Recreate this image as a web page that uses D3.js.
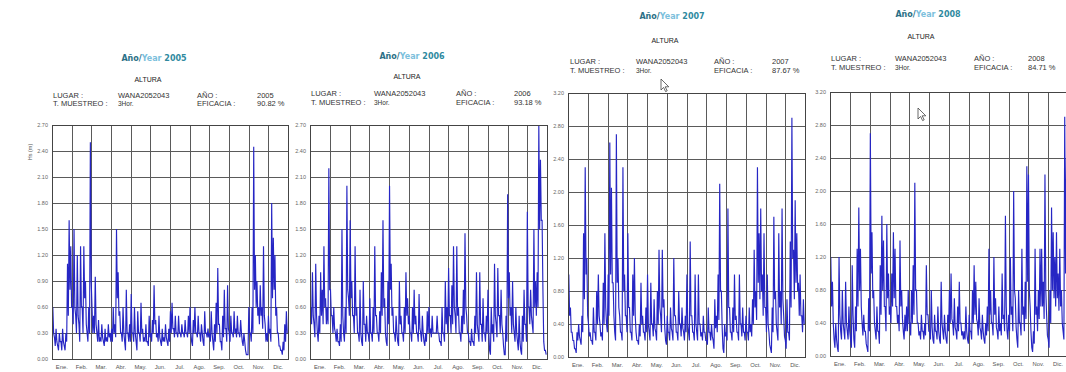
<!DOCTYPE html>
<html><head><meta charset="utf-8">
<script src="https://cdn.jsdelivr.net/npm/d3@7"></script>
<style>
html,body{margin:0;padding:0;background:#fff;}
svg{display:block;}
text{font-family:"Liberation Sans",Arial,sans-serif;}
</style></head>
<body>
<svg id="c" width="1066" height="372"></svg>
<script>
// ---------- DATA ----------
const months = ["Ene.","Feb.","Mar.","Abr.","May.","Jun.","Jul.","Ago.","Sep.","Oct.","Nov.","Dic."];
const years = ["2005","2006","2007","2008"];
const eficacia = ["90.82 %","93.18 %","87.67 %","84.71 %"];
const lugar = "WANA2052043";
const muestreo = "3Hor.";
const ticksA = [0.00,0.30,0.60,0.90,1.20,1.50,1.80,2.10,2.40,2.70];
const ticksB = [0.00,0.40,0.80,1.20,1.60,2.00,2.40,2.80,3.20];

// Hs (m): 12 readings per month (~2.5 days each), local peak and local trough
const hs2005 = [
 0.6,0.25,0.35,0.15,0.3,0.2,0.35,0.15,0.3,1.1,1.6,1.3,
 0.6,1.5,0.5,1.2,0.4,1.3,0.6,1.3,0.9,0.3,0.6,2.5,
 0.6,0.5,0.95,0.3,0.45,0.25,0.4,0.2,0.35,0.25,0.4,0.3,
 0.35,0.6,0.4,1.5,1.0,0.55,0.3,0.6,0.2,0.8,0.3,0.4,
 0.75,0.3,0.6,0.2,0.55,0.3,0.65,0.35,0.25,0.4,0.2,0.5,
 0.3,0.45,0.85,0.45,0.3,0.5,0.2,0.35,0.25,0.4,0.2,0.35,
 0.55,0.65,0.35,0.5,0.3,0.5,0.3,0.4,0.3,0.45,0.3,0.5,
 0.6,0.2,0.45,0.6,0.3,0.5,0.3,0.4,0.2,0.55,0.3,0.35,
 0.3,0.55,0.2,0.4,0.65,1.05,0.4,0.2,0.5,0.8,0.35,0.85,
 0.3,0.5,0.3,0.55,0.35,0.5,0.3,0.45,0.2,0.3,0.1,0.05,
 0.6,0.3,0.6,2.45,1.2,0.9,0.6,0.85,0.6,1.3,0.4,0.3,
 0.5,0.35,1.8,1.4,1.2,0.6,0.3,0.15,0.1,0.2,0.4,0.55];
const hs2005Lo = [
 0.3,0.15,0.2,0.1,0.2,0.1,0.2,0.1,0.2,0.5,0.8,0.6,
 0.4,0.6,0.3,0.5,0.2,0.6,0.3,0.7,0.4,0.2,0.3,0.9,
 0.3,0.3,0.4,0.2,0.2,0.2,0.25,0.15,0.2,0.2,0.25,0.2,
 0.2,0.3,0.25,0.7,0.5,0.3,0.2,0.3,0.1,0.3,0.2,0.2,
 0.3,0.2,0.3,0.1,0.3,0.2,0.3,0.2,0.2,0.2,0.15,0.25,
 0.2,0.3,0.4,0.25,0.2,0.25,0.15,0.2,0.2,0.25,0.15,0.2,
 0.3,0.35,0.25,0.3,0.25,0.3,0.25,0.3,0.25,0.3,0.25,0.3,
 0.3,0.15,0.3,0.3,0.25,0.3,0.2,0.3,0.15,0.3,0.25,0.25,
 0.2,0.3,0.1,0.2,0.3,0.4,0.2,0.1,0.25,0.35,0.2,0.35,
 0.2,0.3,0.25,0.3,0.25,0.3,0.25,0.3,0.15,0.2,0.05,0.05,
 0.3,0.2,0.3,0.8,0.6,0.5,0.4,0.5,0.35,0.5,0.2,0.2,
 0.3,0.2,0.7,0.8,0.5,0.3,0.15,0.1,0.05,0.1,0.2,0.3];
const hs2006 = [
 0.6,1.0,0.4,1.1,0.3,0.5,1.0,0.8,1.3,0.7,0.6,2.2,
 0.8,0.5,0.6,0.3,0.35,0.2,0.4,1.5,0.3,0.6,2.0,0.7,
 1.6,0.9,0.5,1.3,0.6,0.3,0.8,0.2,0.9,0.4,0.5,0.3,
 0.7,0.3,0.6,1.3,0.5,0.3,0.55,1.0,1.6,0.7,0.2,0.9,
 2.0,1.1,0.6,0.3,0.5,0.2,0.9,0.5,0.3,0.6,1.0,0.7,
 0.5,0.3,0.6,0.8,0.5,0.3,0.75,0.3,0.5,0.2,0.3,0.55,
 0.6,0.35,0.5,0.3,0.3,0.5,0.3,0.2,0.6,0.3,0.9,0.6,
 1.05,0.5,0.85,1.3,0.5,1.3,0.6,0.3,0.5,0.8,1.45,0.5,
 0.3,0.2,0.35,0.2,0.5,1.0,0.3,1.0,0.4,0.7,0.3,0.5,
 0.8,0.1,0.6,0.4,1.1,0.4,1.05,0.5,0.8,0.3,0.05,0.5,
 1.9,1.0,0.6,0.9,0.3,0.6,0.2,0.5,0.1,0.5,0.8,0.4,
 1.7,0.6,0.8,0.4,1.5,0.9,1.0,2.7,2.3,1.6,0.2,0.1];
const hs2006Lo = [
 0.4,0.5,0.25,0.5,0.2,0.3,0.5,0.4,0.6,0.4,0.4,0.8,
 0.5,0.3,0.35,0.2,0.2,0.15,0.2,0.5,0.2,0.3,0.8,0.5,
 0.7,0.5,0.3,0.5,0.3,0.2,0.3,0.15,0.4,0.2,0.3,0.2,
 0.3,0.2,0.3,0.5,0.3,0.2,0.3,0.5,0.6,0.3,0.15,0.4,
 0.8,0.5,0.3,0.2,0.3,0.15,0.4,0.3,0.2,0.3,0.5,0.4,
 0.3,0.2,0.3,0.4,0.3,0.2,0.35,0.2,0.3,0.15,0.2,0.3,
 0.3,0.25,0.3,0.3,0.3,0.3,0.2,0.15,0.3,0.2,0.4,0.3,
 0.5,0.3,0.4,0.6,0.3,0.5,0.3,0.2,0.3,0.4,0.6,0.3,
 0.2,0.15,0.2,0.15,0.3,0.4,0.2,0.4,0.2,0.3,0.2,0.3,
 0.3,0.05,0.3,0.2,0.5,0.25,0.5,0.3,0.4,0.15,0.05,0.2,
 0.7,0.5,0.3,0.4,0.2,0.3,0.1,0.2,0.05,0.2,0.4,0.2,
 0.6,0.4,0.5,0.3,0.6,0.5,0.6,1.5,1.6,0.8,0.1,0.05];
const hs2007 = [
 1.0,0.6,0.3,0.2,0.1,0.3,0.4,0.2,0.5,1.5,2.3,1.2,
 0.4,0.3,0.2,0.6,0.3,0.8,1.0,0.4,0.3,0.9,1.5,0.4,
 1.0,2.6,2.05,0.9,0.3,2.7,1.2,0.5,0.3,2.3,1.0,0.5,
 1.5,0.6,0.3,1.0,1.2,0.3,0.2,0.4,0.9,0.5,0.3,0.6,
 1.0,0.3,0.9,0.4,0.7,0.3,0.8,1.3,0.5,1.3,0.7,0.2,
 0.5,0.3,0.6,0.3,1.2,0.5,0.3,0.8,0.4,0.6,0.3,0.5,
 1.0,0.3,1.4,0.5,0.3,1.0,0.3,1.0,0.4,0.3,0.5,0.3,
 0.2,0.6,0.3,0.4,0.2,0.7,0.5,1.0,2.1,0.8,0.1,0.4,
 0.3,1.8,0.6,0.3,0.6,1.0,0.5,0.3,1.0,0.4,0.6,0.3,
 0.5,0.3,0.6,0.4,0.7,1.3,0.8,2.3,1.5,1.8,1.0,1.5,
 0.6,1.0,0.3,0.1,0.6,1.7,0.8,0.3,1.5,0.8,1.8,0.5,
 0.2,0.7,0.3,1.4,2.9,1.3,1.9,1.5,0.9,1.0,0.5,0.7];
const hs2007Lo = [
 0.5,0.3,0.2,0.1,0.05,0.2,0.25,0.15,0.3,0.7,1.0,0.5,
 0.25,0.2,0.15,0.3,0.2,0.4,0.5,0.25,0.2,0.4,0.6,0.3,
 0.5,1.0,0.9,0.5,0.2,0.9,0.6,0.3,0.2,0.8,0.5,0.3,
 0.6,0.3,0.2,0.5,0.5,0.2,0.15,0.25,0.4,0.3,0.2,0.3,
 0.4,0.2,0.4,0.25,0.35,0.2,0.4,0.6,0.3,0.6,0.35,0.15,
 0.3,0.2,0.35,0.2,0.5,0.3,0.2,0.4,0.25,0.35,0.2,0.3,
 0.4,0.2,0.5,0.3,0.2,0.4,0.2,0.4,0.25,0.2,0.3,0.2,
 0.15,0.3,0.2,0.25,0.1,0.35,0.3,0.45,0.8,0.35,0.05,0.25,
 0.2,0.6,0.3,0.2,0.3,0.45,0.3,0.2,0.4,0.25,0.3,0.2,
 0.3,0.2,0.3,0.25,0.4,0.6,0.45,0.9,0.7,0.8,0.5,0.6,
 0.3,0.4,0.15,0.05,0.3,0.7,0.4,0.2,0.6,0.4,0.7,0.25,
 0.1,0.3,0.2,0.6,1.2,0.7,0.9,0.8,0.5,0.5,0.3,0.4];
const hs2008 = [
 1.2,0.9,0.2,0.4,0.1,1.2,0.3,0.8,0.3,0.9,0.3,0.6,
 0.2,1.1,0.2,0.6,1.3,1.8,1.3,0.4,0.5,0.3,0.1,0.7,
 2.7,1.5,0.8,0.3,0.6,0.3,1.1,1.7,1.4,0.6,1.6,1.0,
 0.6,1.0,1.5,1.3,0.6,0.5,1.4,0.8,0.3,0.5,0.6,0.8,
 0.4,0.8,1.1,2.1,0.8,0.4,0.3,0.5,0.3,0.4,1.1,0.5,
 0.3,0.8,0.2,0.5,0.3,0.6,0.2,0.9,0.3,0.5,0.2,0.5,
 0.8,1.0,0.4,0.7,0.3,0.6,0.9,0.4,0.3,0.3,0.6,0.2,
 0.5,0.3,0.8,1.1,0.9,0.4,0.7,0.3,0.5,0.2,0.4,0.6,
 1.3,0.8,0.4,1.2,0.7,0.3,0.6,0.4,1.0,0.5,1.7,0.3,
 0.5,1.2,0.6,2.0,0.7,0.2,0.8,0.4,1.3,0.6,0.9,2.3,
 2.2,0.6,0.1,0.3,1.3,0.6,0.8,1.3,1.3,0.9,2.2,0.5,
 0.2,0.8,1.8,1.5,1.2,1.5,1.0,1.3,0.8,0.3,2.9,2.4];
const hs2008Lo = [
 0.6,0.4,0.1,0.2,0.05,0.5,0.2,0.4,0.2,0.4,0.2,0.3,
 0.1,0.5,0.1,0.3,0.6,0.8,0.6,0.25,0.3,0.15,0.05,0.3,
 1.0,0.7,0.4,0.2,0.3,0.15,0.5,0.8,0.6,0.3,0.7,0.5,
 0.4,0.6,0.7,0.6,0.4,0.3,0.6,0.45,0.2,0.3,0.3,0.4,
 0.25,0.4,0.5,0.8,0.4,0.25,0.2,0.3,0.2,0.25,0.5,0.3,
 0.2,0.35,0.15,0.3,0.2,0.3,0.15,0.4,0.2,0.3,0.15,0.3,
 0.4,0.45,0.25,0.35,0.2,0.3,0.4,0.25,0.2,0.2,0.3,0.15,
 0.3,0.2,0.4,0.5,0.45,0.25,0.35,0.2,0.3,0.15,0.25,0.3,
 0.5,0.4,0.25,0.5,0.35,0.2,0.3,0.25,0.45,0.3,0.6,0.2,
 0.3,0.5,0.3,0.8,0.35,0.1,0.4,0.25,0.5,0.3,0.45,0.9,
 0.8,0.3,0.05,0.15,0.5,0.3,0.45,0.6,0.6,0.45,0.8,0.25,
 0.1,0.4,0.8,0.7,0.6,0.7,0.55,0.6,0.4,0.2,1.0,1.0];

// ---------- LAYOUT ----------
const panels = [
 {year:years[0], ef:eficacia[0], hi:hs2005, lo:hs2005Lo, ticks:ticksA, x0:52,  x1:288,  y0:125, y1:359,
  titleX:154, titleY:61, altX:148, altY:82, row1:98, row2:106, cLugar:53, cWana:118, cAno:197, cVal:257, ytitle:true},
 {year:years[1], ef:eficacia[1], hi:hs2006, lo:hs2006Lo, ticks:ticksA, x0:310, x1:547,  y0:125, y1:359,
  titleX:412, titleY:59, altX:407, altY:79, row1:96, row2:105, cLugar:311, cWana:374, cAno:456, cVal:514},
 {year:years[2], ef:eficacia[2], hi:hs2007, lo:hs2007Lo, ticks:ticksB, x0:568, x1:805,  y0:93,  y1:357,
  titleX:672, titleY:19, altX:665, altY:43, row1:64, row2:73, cLugar:570, cWana:636, cAno:714, cVal:772},
 {year:years[3], ef:eficacia[3], hi:hs2008, lo:hs2008Lo, ticks:ticksB, x0:830, x1:1068, y0:92,  y1:356,
  titleX:928, titleY:17, altX:921, altY:39, row1:61, row2:70, cLugar:831, cWana:895, cAno:974, cVal:1028}
];

const svg = d3.select("#c");
const infoFont = 7.5;

panels.forEach(p => {
  const g = svg.append("g");
  const yMax = p.ticks[p.ticks.length-1];
  const y = d3.scaleLinear().domain([0, yMax]).range([p.y1, p.y0]);
  const xb = d3.scaleBand().domain(months).range([p.x0, p.x1]).paddingInner(0).paddingOuter(0);
  const n = p.hi.length;
  const xi = d3.scaleLinear().domain([0, n - 0.5]).range([p.x0+0.8, p.x1-0.8]);

  // header
  const t = g.append("text").attr("x", p.titleX).attr("y", p.titleY).attr("text-anchor","middle")
    .style("font-family","'DejaVu Sans',Verdana,sans-serif").style("font-weight","bold").style("font-size","8px");
  t.append("tspan").attr("fill","#2a6f86").text("Año/");
  t.append("tspan").attr("fill","#7cc0dc").text("Year ");
  t.append("tspan").attr("fill","#2f8aa0").text(p.year);

  g.append("text").attr("x", p.altX).attr("y", p.altY).attr("text-anchor","middle")
    .attr("fill","#222").style("font-size","7px").text("ALTURA");

  const info = [
    [p.cLugar, p.row1, "LUGAR :"], [p.cWana, p.row1, lugar], [p.cAno, p.row1, "AÑO :"], [p.cVal, p.row1, p.year],
    [p.cLugar, p.row2, "T. MUESTREO :"], [p.cWana, p.row2, muestreo], [p.cAno, p.row2, "EFICACIA :"], [p.cVal, p.row2, p.ef]
  ];
  info.forEach(d => {
    g.append("text").attr("x", d[0]).attr("y", d[1]).attr("fill","#333")
      .style("font-size", (d[2]===muestreo? 6.5 : infoFont)+"px").text(d[2]);
  });

  // horizontal grid + y labels
  const yAxis = d3.axisLeft(y).tickValues(p.ticks).tickFormat(d3.format(".2f"))
     .tickSize(-(p.x1-p.x0)).tickPadding(4);
  const ya = g.append("g").attr("transform",`translate(${p.x0},0)`).call(yAxis);
  ya.select(".domain").remove();
  ya.selectAll("line").attr("stroke","#5a5a5a").attr("stroke-width",1);
  ya.selectAll("text").attr("fill","#666").style("font-size","5.5px").style("font-family","'Liberation Sans',Arial,sans-serif");

  // vertical grid at month boundaries
  const bounds = months.map(m => xb(m)).concat([p.x1]);
  g.append("g").selectAll("line").data(bounds).join("line")
    .attr("x1", d=>Math.round(d)+0.5).attr("x2", d=>Math.round(d)+0.5)
    .attr("y1", p.y0).attr("y2", p.y1).attr("stroke","#5a5a5a").attr("stroke-width",1);

  // month labels
  const xAxis = d3.axisBottom(xb).tickSize(0).tickPadding(6);
  const xa = g.append("g").attr("transform",`translate(0,${p.y1})`).call(xAxis);
  xa.select(".domain").remove();
  xa.selectAll("text").attr("fill","#555").style("font-size","5.8px").style("font-family","'Liberation Sans',Arial,sans-serif");

  // series: each ~2.5-day reading drawn as its peak then its trough
  const pts = [];
  p.hi.forEach((v,i) => { pts.push([i, v]); pts.push([i+0.5, p.lo[i]]); });
  const line = d3.line().x(d=>xi(d[0])).y(d=>y(d[1]));
  g.append("path").datum(pts).attr("d", line).attr("fill","none")
    .attr("stroke","#2626c4").attr("stroke-width",1.15).attr("stroke-linejoin","miter");

  // frame
  g.append("rect").attr("x",p.x0+0.5).attr("y",p.y0+0.5).attr("width",p.x1-p.x0).attr("height",p.y1-p.y0)
    .attr("fill","none").attr("stroke","#444").attr("stroke-width",1);

  if (p.ytitle) {
    g.append("text").attr("transform",`translate(32,${(p.y0+p.y1)/2 - 90}) rotate(-90)`)
      .attr("text-anchor","middle").attr("fill","#555").style("font-size","5.5px").text("Hs  (m)");
  }
});

// mouse cursors visible in the screenshot
function cursor(x, y) {
  svg.append("path").attr("transform",`translate(${x},${y})`)
    .attr("d","M0,0 L0,11 L2.6,8.4 L4.6,12.6 L6.2,11.8 L4.2,7.8 L7.8,7.8 Z")
    .attr("fill","#fff").attr("stroke","#444").attr("stroke-width",0.8);
}
cursor(661, 79);
cursor(918, 108);
</script>
</body></html>
